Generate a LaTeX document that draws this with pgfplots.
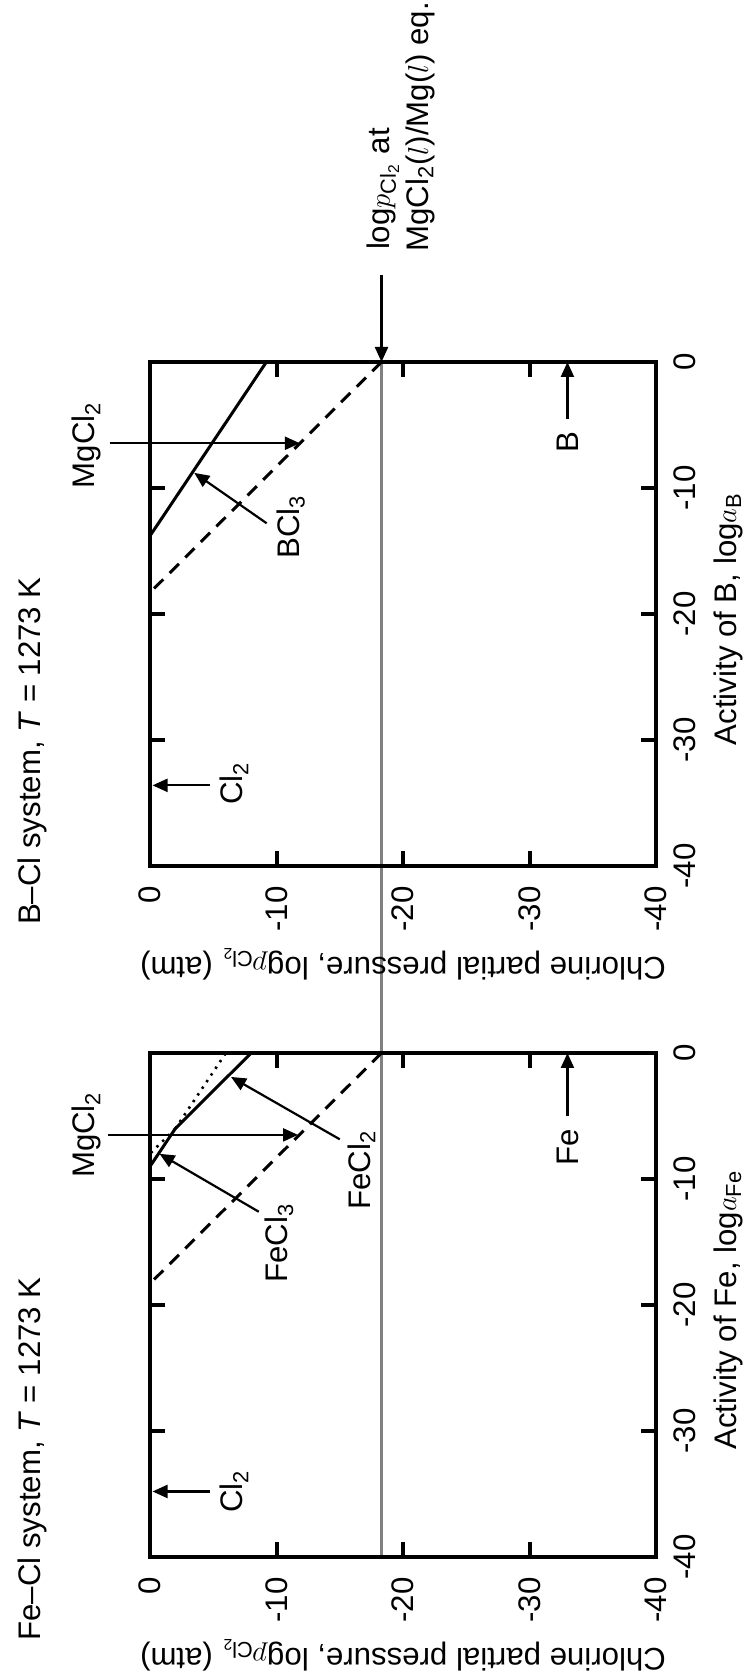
\documentclass[border=0pt]{standalone}
\usepackage{amsmath}
\usepackage{fontspec}
\setmainfont{Liberation Sans}
\usepackage{graphicx}
\usepackage{pgfplots}
\pgfplotsset{compat=1.18}
\usetikzlibrary{arrows.meta}
\newcommand{\fs}{\fontsize{15.6}{18.7}\selectfont}
\tikzset{arr/.style={line width=1.1pt, -{Triangle[length=7.5pt,width=6.5pt]}}}
\pgfplotsset{
  myax/.style={
    scale only axis, width=252pt, height=253pt,
    xmin=-40, xmax=0, ymin=-40, ymax=0,
    xtick={-40,-30,-20,-10,0}, ytick={-40,-30,-20,-10,0},
    xticklabels={-40,-30,-20,-10,0}, yticklabels={-40,-30,-20,-10,0},
    tick align=inside, major tick length=7.5pt,
    major tick style={line width=2pt, black},
    axis line style={line width=2pt},
    xticklabel style={anchor=north, inner sep=0pt, yshift=-8.5pt, font=\fs},
    yticklabel style={anchor=east, inner sep=0pt, xshift=-10pt, font=\fs},
    every axis x label/.style={at={(axis description cs:0.49,-0.1423)}, anchor=center, font=\fs},
    every axis y label/.style={at={(axis description cs:-0.1944,0.5)}, anchor=center, rotate=90, font=\fs},
    ylabel={Chlorine partial pressure, log$p_{\text{Cl}_{\text{2}}}$ (atm)},
    clip=false, axis on top,
  },
  solid line/.style={black, line width=1.5pt, line join=miter},
  dash line/.style={black, line width=1.5pt, dash pattern=on 6.5pt off 4.5pt},
  dot line/.style={black, line width=1.3pt, dash pattern=on 1.2pt off 2.8pt},
}
\begin{document}
\rotatebox{90}{%
\begin{tikzpicture}
\path[use as bounding box] (0,0) rectangle (840pt,-375pt);
% ---------------- Fe-Cl panel ----------------
\begin{axis}[myax, at={(61.5pt,-328pt)}, anchor=south west,
  xlabel={Activity of Fe, log$a_{\text{Fe}}$}]
\addplot[gray, line width=1.85pt, forget plot] coordinates {(-40,-18.3) (54.84,-18.3)};
\addplot[dot line] coordinates {(-6,-2) (-8,0)};
\addplot[dot line] coordinates {(-6,-2) (0,-6)};
\addplot[solid line] coordinates {(0,-8) (-6,-2) (-9,0)};
\addplot[dash line] coordinates {(0,-18.3) (-18.3,0)};
\node[anchor=base west, font=\fs] at (axis description cs:-0.18,1.2174) {Fe--Cl system, \textit{T} = 1273 K};
\node[anchor=base, font=\fs] at (axis cs:-6.5,4.35) {MgCl\textsubscript{2}};
\draw[arr] (axis cs:-6.5,3.3) -- (axis cs:-6.5,-11.7);
\node[anchor=base, font=\fs] at (axis cs:-15.08,-10.9) {FeCl\textsubscript{3}};
\draw[arr] (axis cs:-12.6,-8.6) -- (axis cs:-8.0,-0.75);
\node[anchor=base, font=\fs] at (axis cs:-9.29,-17.4) {FeCl\textsubscript{2}};
\draw[arr] (axis cs:-6.85,-15.0) -- (axis cs:-1.9,-6.4);
\node[anchor=base, font=\fs] at (axis cs:-34.8,-7.35) {Cl\textsubscript{2}};
\draw[arr] (axis cs:-34.8,-4.74) -- (axis cs:-34.8,-0.2);
\node[anchor=base east, font=\fs] at (axis cs:-5.5,-33.9) {Fe};
\draw[arr] (axis cs:-5.0,-33) -- (axis cs:0,-33);
\end{axis}
% ---------------- B-Cl panel ----------------
\begin{axis}[myax, at={(407pt,-328pt)}, anchor=south west,
  xlabel={Activity of B, log$a_{\text{B}}$}]
\addplot[solid line] coordinates {(0,-9.2) (-13.8,0)};
\addplot[dash line] coordinates {(0,-18.3) (-18.3,0)};
\node[anchor=base west, font=\fs] at (axis description cs:-0.131,1.2174) {B--Cl system, \textit{T} = 1273 K};
\node[anchor=base, font=\fs] at (axis cs:-6.6,4.35) {MgCl\textsubscript{2}};
\draw[arr] (axis cs:-6.45,3.2) -- (axis cs:-6.45,-11.85);
\node[anchor=base, font=\fs] at (axis cs:-13.1,-11.8) {BCl\textsubscript{3}};
\draw[arr] (axis cs:-12.8,-9.22) -- (axis cs:-8.8,-3.5);
\node[anchor=base, font=\fs] at (axis cs:-33.45,-7.35) {Cl\textsubscript{2}};
\draw[arr] (axis cs:-33.6,-4.74) -- (axis cs:-33.6,-0.2);
\node[anchor=base east, font=\fs] at (axis cs:-5.0,-33.9) {B};
\draw[arr] (axis cs:-4.5,-33) -- (axis cs:0,-33);
\draw[arr] (axis cs:6.9,-18.3) -- (axis cs:0,-18.3);
\node[anchor=base west, font=\fs] at (axis cs:8.33,-18.97) {log$p_{\text{Cl}_{\text{2}}}$ at};
\node[anchor=base west, font=\fs] at (axis cs:8.2,-21.98) {MgCl\textsubscript{2}($l$)/Mg($l$) eq.};
\end{axis}
\end{tikzpicture}}
\end{document}
